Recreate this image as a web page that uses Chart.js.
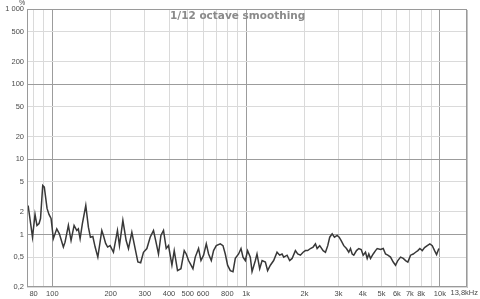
<!DOCTYPE html>
<html>
<head>
<meta charset="utf-8">
<script src="https://cdn.jsdelivr.net/npm/chart.js@4.4.1/dist/chart.umd.min.js"></script>
<style>
  html, body { margin: 0; padding: 0; background: #ffffff; }
  #wrap { width: 480px; height: 299px; }
</style>
</head>
<body>
<div id="wrap"><canvas id="c" width="480" height="299"></canvas></div>
<script>
// ---- data ----
const freqHz = [
  75, 79, 81.4, 83.3, 85.4, 86.9, 89.2, 90.9, 93.9, 96.1, 98.5,
  101.2, 105.4, 108.7, 114, 116.3, 121, 124.9, 129.5, 133.7, 136.2, 139.1,
  142.9, 148.8, 153.5, 157.2, 161.8, 166.3, 171.7, 180, 183.5, 188.4, 192.9,
  198.7, 206.7, 216.8, 222, 231.2, 240.4, 247.1, 257.2, 267.5, 276.3, 285.6,
  295.3, 307.5, 319.8, 332.7, 341.5, 353, 363.3, 374.7, 387, 397.7, 414.1,
  425.6, 442.6, 460.9, 479.3, 490.9, 504.5, 514.8, 531.6, 546.4, 568.3, 584.8,
  603.2, 622.9, 640.2, 661.1, 679.3, 701.5, 735.7, 759.6, 780.7, 802.4, 828.5,
  855.6, 879.4, 914.6, 941.1, 963.8, 990.6, 1018, 1051, 1073, 1116, 1138,
  1175, 1209, 1257, 1291, 1334, 1387, 1444, 1490, 1533, 1563, 1627, 1678,
  1727, 1796, 1846, 1906, 1968, 2023, 2079, 2147, 2217, 2279, 2325, 2398,
  2497, 2567, 2638, 2701, 2780, 2857, 2950, 3021, 3094, 3191, 3295, 3386,
  3456, 3527, 3595, 3712, 3814, 3925, 4019, 4131, 4215, 4297, 4385, 4527,
  4653, 4748, 4938, 5099, 5241, 5386, 5562, 5743, 5903, 6067, 6266, 6471,
  6650, 6834, 7058, 7288, 7490, 7698, 7883, 8110, 8334, 8607, 8877, 9134,
  9388, 9614, 9881
];
const levelPct = [
  2.43, 0.92, 1.85, 1.32, 1.40, 1.63, 4.48, 4.26, 2.22, 1.85, 1.63,
  0.88, 1.19, 1.02, 0.68, 0.79, 1.32, 0.83, 1.32, 1.13, 1.19, 0.88,
  1.39, 2.43, 1.25, 0.92, 0.94, 0.68, 0.50, 1.13, 0.97, 0.76, 0.68,
  0.71, 0.58, 1.13, 0.71, 1.54, 0.83, 0.65, 1.07, 0.65, 0.43, 0.42,
  0.58, 0.65, 0.92, 1.13, 0.83, 0.55, 0.97, 1.13, 0.65, 0.71, 0.39,
  0.61, 0.33, 0.35, 0.61, 0.55, 0.45, 0.41, 0.35, 0.50, 0.65, 0.45,
  0.53, 0.75, 0.55, 0.45, 0.61, 0.71, 0.75, 0.71, 0.55, 0.39, 0.33,
  0.32, 0.48, 0.55, 0.65, 0.50, 0.45, 0.61, 0.50, 0.32, 0.45, 0.55,
  0.35, 0.45, 0.43, 0.33, 0.39, 0.45, 0.58, 0.53, 0.55, 0.50, 0.53, 0.45,
  0.48, 0.61, 0.55, 0.53, 0.58, 0.61, 0.61, 0.65, 0.68, 0.75, 0.65, 0.71,
  0.61, 0.58, 0.71, 0.92, 1.02, 0.92, 0.97, 0.92, 0.83, 0.71, 0.65, 0.58,
  0.65, 0.55, 0.53, 0.61, 0.65, 0.63, 0.53, 0.58, 0.48, 0.55, 0.48, 0.55,
  0.61, 0.65, 0.63, 0.65, 0.55, 0.53, 0.50, 0.43, 0.39, 0.45, 0.50, 0.48,
  0.45, 0.43, 0.53, 0.55, 0.58, 0.61, 0.65, 0.61, 0.67, 0.71, 0.75, 0.71,
  0.61, 0.54, 0.65
];

const xTickValues = [80, 90, 100, 200, 300, 400, 500, 600, 700, 800, 900,
  1000, 2000, 3000, 4000, 5000, 6000, 7000, 8000, 9000, 10000];
const xTickLabels = ['80', '', '100', '200', '300', '400', '500', '600', '', '800', '',
  '1k', '2k', '3k', '4k', '5k', '6k', '7k', '8k', '', '10k'];
const xMajor = [100, 1000, 10000];
const xEndLabel = '13,8kHz';

const yTickValues = [0.2, 0.5, 1, 2, 5, 10, 20, 50, 100, 200, 500, 1000];
const yTickLabels = ['0,2', '0,5', '1', '2', '5', '10', '20', '50', '100', '200', '500', '1 000'];
const yMajor = [1, 10, 100];
const yUnit = '%';
const titleText = '1/12 octave smoothing';

// ---- chart ----
const points = freqHz.map((f, i) => ({ x: f, y: levelPct[i] }));
const tickFont = { family: '"Liberation Sans", Arial, sans-serif', size: 7.5 };
const tickColor = '#4a4a4a';

const decor = {
  id: 'decor',
  beforeDraw(chart) {
    const ctx = chart.ctx;
    ctx.save();
    ctx.fillStyle = '#ffffff';
    ctx.fillRect(0, 0, chart.width, chart.height);
    ctx.restore();
  },
  afterDatasetsDraw(chart) {
    const ctx = chart.ctx;
    const a = chart.chartArea;
    ctx.save();
    // frame
    ctx.strokeStyle = '#9a9a9a';
    ctx.lineWidth = 1;
    ctx.strokeRect(Math.round(a.left) + 0.5, Math.round(a.top) + 0.5,
      Math.round(a.right - a.left) - 1, Math.round(a.bottom - a.top) - 1);
    ctx.strokeStyle = '#c4c4c4';
    ctx.beginPath();
    ctx.moveTo(Math.round(a.right) + 0.5, a.top + 1);
    ctx.lineTo(Math.round(a.right) + 0.5, a.bottom + 1);
    ctx.stroke();
    // title
    ctx.fillStyle = '#8a8a8a';
    ctx.font = 'bold 10.5px "DejaVu Sans", sans-serif';
    ctx.textAlign = 'left';
    ctx.textBaseline = 'middle';
    ctx.fillText(titleText, 170, 16);
    // unit
    ctx.fillStyle = tickColor;
    ctx.font = '7px "Liberation Sans", Arial, sans-serif';
    ctx.textAlign = 'center';
    ctx.fillText(yUnit, 22, 3);
    // end label of x axis
    ctx.font = '7.5px "Liberation Sans", Arial, sans-serif';
    ctx.textAlign = 'right';
    ctx.fillText(xEndLabel, 478, 293);
    ctx.restore();
  }
};

new Chart(document.getElementById('c'), {
  type: 'line',
  data: {
    datasets: [{
      data: points,
      borderColor: '#383838',
      borderWidth: 1.5,
      pointRadius: 0,
      tension: 0,
      fill: false
    }]
  },
  options: {
    responsive: false,
    animation: false,
    devicePixelRatio: 1,
    layout: { padding: { top: 9, right: 13, left: 0, bottom: 0 } },
    plugins: { legend: { display: false }, tooltip: { enabled: false }, title: { display: false } },
    scales: {
      x: {
        type: 'logarithmic',
        min: 74,
        max: 13800,
        afterBuildTicks: (s) => { s.ticks = xTickValues.map(v => ({ value: v })); },
        afterFit: (s) => { s.height = 12; },
        ticks: {
          autoSkip: false,
          maxRotation: 0,
          minRotation: 0,
          padding: 2,
          font: tickFont,
          color: tickColor,
          callback: (v) => { const i = xTickValues.indexOf(v); return i >= 0 ? xTickLabels[i] : ''; }
        },
        grid: {
          drawTicks: false,
          color: (c) => (c.tick && xMajor.includes(c.tick.value)) ? '#9c9c9c' : '#dadada',
          lineWidth: 1
        },
        border: { display: false }
      },
      y: {
        type: 'logarithmic',
        min: 0.2,
        max: 1000,
        afterBuildTicks: (s) => { s.ticks = yTickValues.map(v => ({ value: v })); },
        afterFit: (s) => { s.width = 27; },
        ticks: {
          autoSkip: false,
          padding: 3,
          font: tickFont,
          color: tickColor,
          callback: (v) => { const i = yTickValues.indexOf(v); return i >= 0 ? yTickLabels[i] : ''; }
        },
        grid: {
          drawTicks: false,
          color: (c) => (c.tick && yMajor.includes(c.tick.value)) ? '#9c9c9c' : '#dadada',
          lineWidth: 1
        },
        border: { display: false }
      }
    }
  },
  plugins: [decor]
});
</script>
</body>
</html>
